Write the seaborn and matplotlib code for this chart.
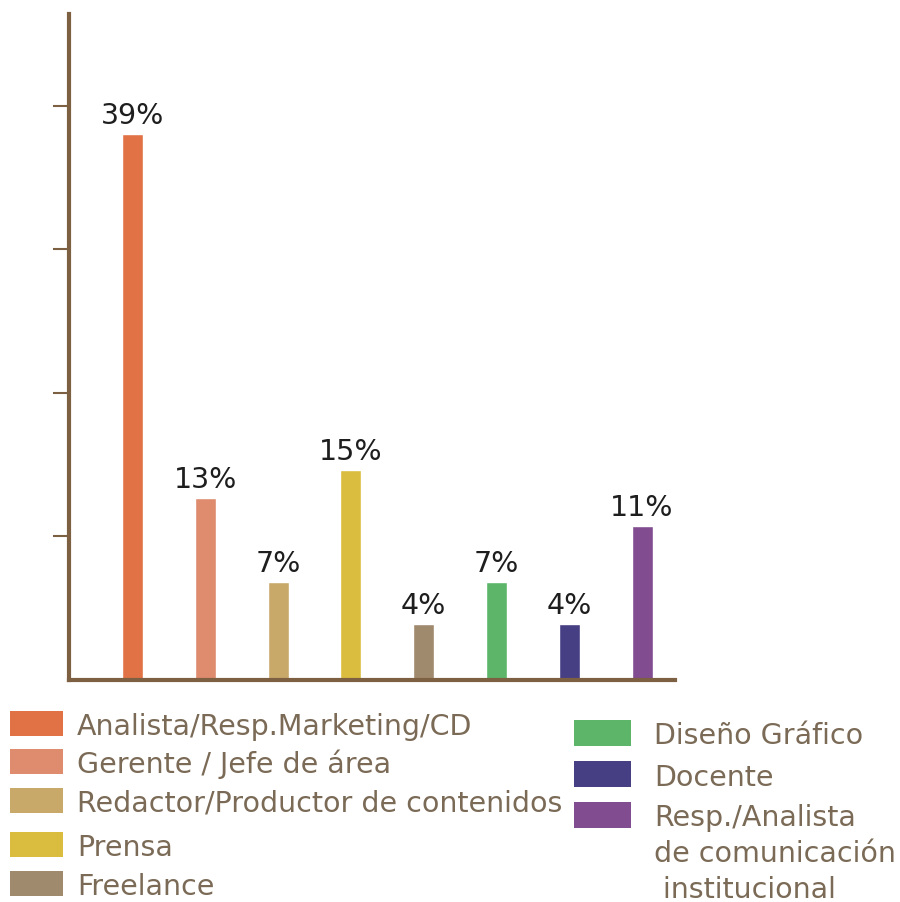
import matplotlib
matplotlib.use("Agg")
import matplotlib.pyplot as plt
from matplotlib.patches import Rectangle
import seaborn as sns
import pandas as pd
import numpy as np

# Job roles and share of respondents (%)
categories = [
    "Analista/Resp.Marketing/CD",
    "Gerente / Jefe de área",
    "Redactor/Productor de contenidos",
    "Prensa",
    "Freelance",
    "Diseño Gráfico",
    "Docente",
    "Resp./Analista\nde comunicación\n institucional",
]
values = [39, 13, 7, 15, 4, 7, 4, 11]
colors = ["#E07246", "#DE8B6E", "#C9A96A", "#DABD3F",
          "#A08A6E", "#5DB56A", "#473F84", "#814C90"]

sns.set_theme(style="white")
plt.rcParams["font.family"] = ["DejaVu Sans"]

W, H = 900, 903
AXIS_COLOR = "#7D5F41"
TEXT_COLOR = "#7A6A56"
PX_PER_UNIT = 14.0

fig = plt.figure(figsize=(W / 100, H / 100), dpi=100)
ax_left, ax_bottom, ax_top, ax_right = 69, 680.5, 15, 675
ax = fig.add_axes([ax_left / W, 1 - ax_bottom / H,
                   (ax_right - ax_left) / W, (ax_bottom - ax_top) / H])

df = pd.DataFrame({"rol": categories, "pct": values})
sns.barplot(data=df, x="rol", y="pct", hue="rol", palette=colors,
            order=categories, hue_order=categories, width=0.29,
            legend=False, saturation=1, ax=ax)

spacing = 72.8
ax.set_xlim((ax_left - 132.5) / spacing, (ax_right - 132.5) / spacing)
ax.set_ylim(0, (ax_bottom - ax_top) / PX_PER_UNIT)

# unlabeled ticks every ~143.5 px
tick_step = 143.5 / PX_PER_UNIT
ax.set_yticks(tick_step * np.arange(1, 5))
ax.set_yticklabels([])
ax.set_xticks([])
ax.tick_params(axis="y", direction="out", length=11.5, width=1.5,
               color=AXIS_COLOR, left=True)
ax.set_xlabel("")
ax.set_ylabel("")
for side in ["top", "right"]:
    ax.spines[side].set_visible(False)
for side in ["left", "bottom"]:
    ax.spines[side].set_color(AXIS_COLOR)
    ax.spines[side].set_linewidth(3.0)

# value labels above bars
for i, v in enumerate(values):
    ax.annotate(f"{v}%", xy=(i, v), xytext=(0, 7.5), textcoords="offset points",
                ha="center", va="baseline", fontsize=20.5, color="#1E1E1E")

# legend drawn as swatches with labels, two columns
def fx(px):
    return px / W

def fy(py):
    return 1 - py / H

left_rows = [712, 750, 789, 833, 872]
right_rows = [721, 762, 803]
columns = [
    (categories[:5], colors[:5], left_rows, 10, 53, 25, 77),
    (categories[5:], colors[5:], right_rows, 574, 57, 26, 654),
]
line_step = 36
for labels, cols, rows, rx, rw, rh, tx in columns:
    for lab, col, top in zip(labels, cols, rows):
        fig.add_artist(Rectangle((fx(rx), fy(top + rh)), rw / W, rh / H,
                                 transform=fig.transFigure, facecolor=col,
                                 edgecolor="none"))
        baseline = top + rh / 2 + 10.5
        for k, line in enumerate(lab.split("\n")):
            fig.text(fx(tx), fy(baseline + k * line_step), line,
                     fontsize=20.5, color=TEXT_COLOR, ha="left", va="baseline")

fig.savefig("out.png", dpi=100)
